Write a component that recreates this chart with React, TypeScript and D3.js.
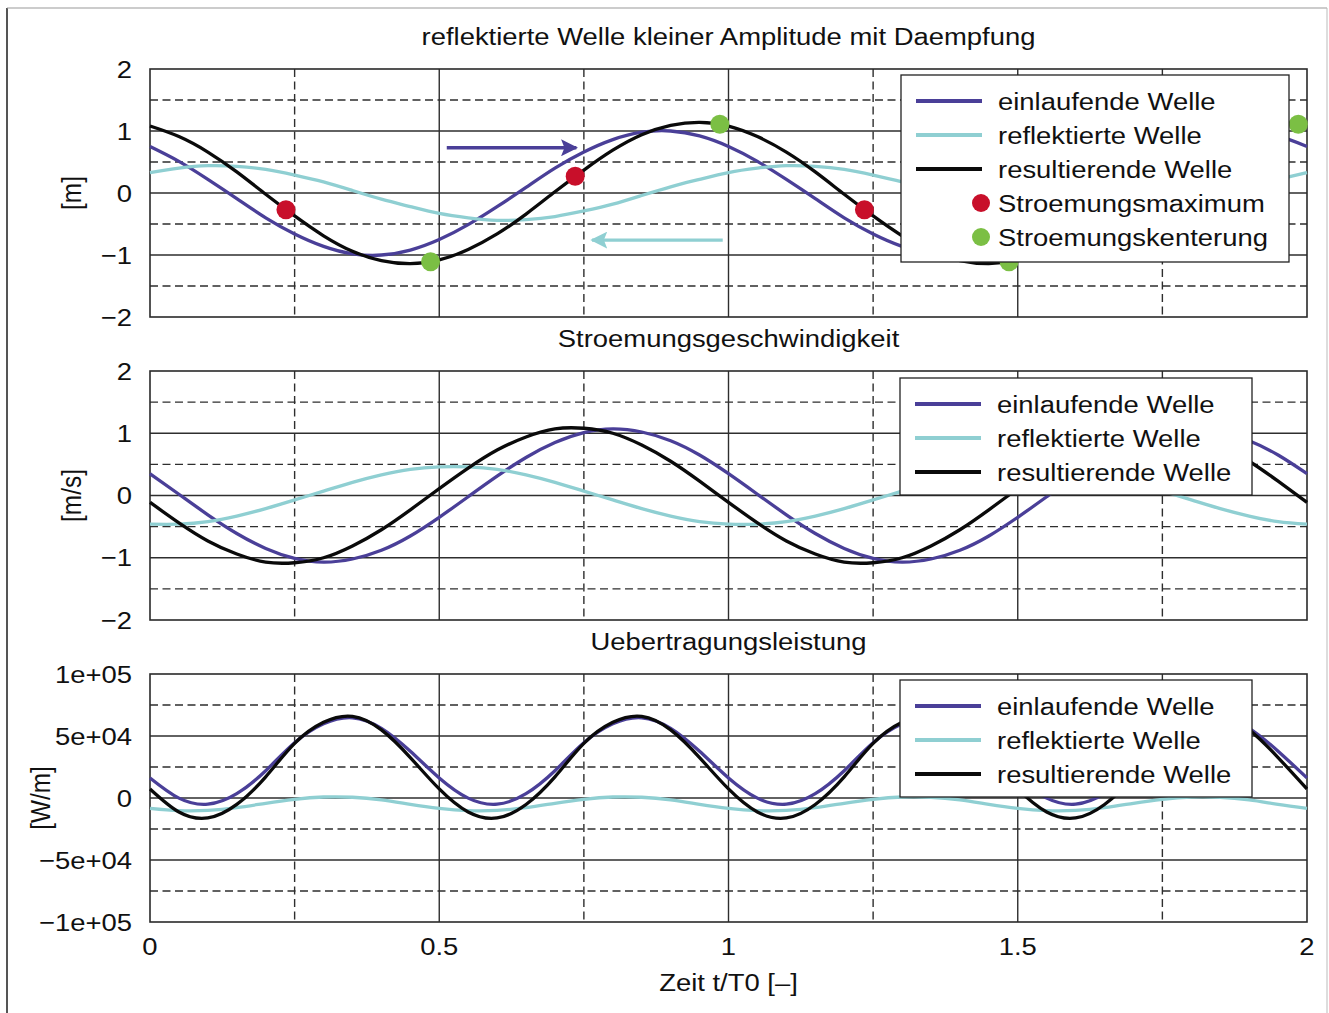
import React from 'react';
import * as d3 from 'd3';

// ---------- data ----------
const TIME = [0,0.05,0.1,0.15,0.2,0.25,0.3,0.35,0.4,0.45,0.5,0.55,0.6,0.65,0.7,0.75,0.8,0.85,0.9,0.95,1,1.05,1.1,1.15,1.2,1.25,1.3,1.35,1.4,1.45,1.5,1.55,1.6,1.65,1.7,1.75,1.8,1.85,1.9,1.95,2];

const ELEV_IN = [0.75,0.51,0.22,-0.09,-0.40,-0.66,-0.86,-0.98,-1.00,-0.92,-0.75,-0.51,-0.22,0.09,0.40,0.66,0.86,0.98,1.00,0.92,0.75,0.51,0.22,-0.09,-0.40,-0.66,-0.86,-0.98,-1.00,-0.92,-0.75,-0.51,-0.22,0.09,0.40,0.66,0.86,0.98,1.00,0.92,0.75];
const ELEV_REF = [0.33,0.40,0.44,0.43,0.38,0.29,0.18,0.04,-0.10,-0.22,-0.33,-0.40,-0.44,-0.43,-0.38,-0.29,-0.18,-0.04,0.10,0.22,0.33,0.40,0.44,0.43,0.38,0.29,0.18,0.04,-0.10,-0.22,-0.33,-0.40,-0.44,-0.43,-0.38,-0.29,-0.18,-0.04,0.10,0.22,0.33];
const ELEV_RES = [1.08,0.91,0.66,0.34,-0.02,-0.37,-0.69,-0.94,-1.09,-1.14,-1.08,-0.91,-0.66,-0.34,0.02,0.37,0.69,0.94,1.09,1.14,1.08,0.91,0.66,0.34,-0.02,-0.37,-0.69,-0.94,-1.09,-1.14,-1.08,-0.91,-0.66,-0.34,0.02,0.37,0.69,0.94,1.09,1.14,1.08];

const VEL_IN = [0.35,0.02,-0.31,-0.61,-0.85,-1.01,-1.07,-1.02,-0.88,-0.65,-0.35,-0.02,0.31,0.61,0.85,1.01,1.07,1.02,0.88,0.65,0.35,0.02,-0.31,-0.61,-0.85,-1.01,-1.07,-1.02,-0.88,-0.65,-0.35,-0.02,0.31,0.61,0.85,1.01,1.07,1.02,0.88,0.65,0.35];
const VEL_REF = [-0.46,-0.46,-0.42,-0.33,-0.21,-0.07,0.07,0.21,0.33,0.42,0.46,0.46,0.42,0.33,0.21,0.07,-0.07,-0.21,-0.33,-0.42,-0.46,-0.46,-0.42,-0.33,-0.21,-0.07,0.07,0.21,0.33,0.42,0.46,0.46,0.42,0.33,0.21,0.07,-0.07,-0.21,-0.33,-0.42,-0.46];
const VEL_RES = [-0.11,-0.44,-0.73,-0.94,-1.07,-1.08,-1.00,-0.81,-0.55,-0.23,0.11,0.44,0.73,0.94,1.07,1.08,1.00,0.81,0.55,0.23,-0.11,-0.44,-0.73,-0.94,-1.07,-1.08,-1.00,-0.81,-0.55,-0.23,0.11,0.44,0.73,0.94,1.07,1.08,1.00,0.81,0.55,0.23,-0.11];

const POW_IN = [16200,-100,-5000,3500,22000,44500,59800,64700,56200,37700,16200,-100,-5000,3500,22000,44500,59800,64700,56200,37700,16200,-100,-5000,3500,22000,44500,59800,64700,56200,37700,16200,-100,-5000,3500,22000,44500,59800,64700,56200,37700,16200];
const POW_REF = [-8300,-10200,-10000,-7800,-4300,-1100,800,600,-1600,-5100,-8300,-10200,-10000,-7800,-4300,-1100,800,600,-1600,-5100,-8300,-10200,-10000,-7800,-4300,-1100,800,600,-1600,-5100,-8300,-10200,-10000,-7800,-4300,-1100,800,600,-1600,-5100,-8300];
const POW_RES = [7300,-11300,-16100,-5200,17100,44000,61000,65800,54900,32600,7300,-11300,-16100,-5200,17100,44000,61000,65800,54900,32600,7300,-11300,-16100,-5200,17100,44000,61000,65800,54900,32600,7300,-11300,-16100,-5200,17100,44000,61000,65800,54900,32600,7300];

const MAX_T = [0.235, 0.735, 1.235, 1.735];
const MAX_V = [-0.27, 0.27, -0.27, 0.27];
const SLACK_T = [0.485, 0.985, 1.485, 1.985];
const SLACK_V = [-1.11, 1.11, -1.11, 1.11];

const ARROW_IN = { t0: 0.513, t1: 0.737, v: 0.73 };
const ARROW_REF = { t0: 0.99, t1: 0.764, v: -0.76 };

const X_TICKS = [0, 0.5, 1, 1.5, 2];
const X_TICK_LABELS = ['0', '0.5', '1', '1.5', '2'];
const X_GRID = [0.25, 0.5, 0.75, 1, 1.25, 1.5, 1.75];
const Y_TICKS_A = [2, 1, 0, -1, -2];
const Y_TICK_LABELS_A = ['2', '1', '0', '\u22121', '\u22122'];
const Y_GRID_A = [-1.5, -1, -0.5, 0, 0.5, 1, 1.5];
const Y_TICKS_P = [100000, 50000, 0, -50000, -100000];
const Y_TICK_LABELS_P = ['1e+05', '5e+04', '0', '\u22125e+04', '\u22121e+05'];
const Y_GRID_P = [-75000, -50000, -25000, 0, 25000, 50000, 75000];

const SERIES_NAMES = ['einlaufende Welle', 'reflektierte Welle', 'resultierende Welle'];
const POINT_NAMES = ['Stroemungsmaximum', 'Stroemungskenterung'];

// ---------- styles ----------
const BLUE = '#4a3f98';
const CYAN = '#8fcfd2';
const BLACK = '#0a0a0a';
const RED = '#c80f2a';
const GREEN = '#7bbf44';
const GRID = '#2e2e2e';
const FONT = "'Liberation Sans', Arial, Helvetica, sans-serif";
const SX = 1.125;

const X0 = 150, X1 = 1307;

type TxtProps = { x: number; y: number; children: any; anchor?: string; size?: number; rotate?: number };
function Txt({ x, y, children, anchor = 'start', size = 24.4, rotate = 0 }: TxtProps) {
  return (
    <text
      transform={`translate(${x},${y}) scale(${SX},1)${rotate ? ` rotate(${rotate})` : ''}`}
      textAnchor={anchor}
      fontSize={size}
      fontFamily={FONT}
      fill="#111"
    >
      {children}
    </text>
  );
}

type PanelProps = {
  top: number; bottom: number; domain: [number, number];
  yTicks: number[]; yTickLabels: string[]; yGrid: number[];
  solidStep: number; title: string; titleY: number;
  unit: string; unitX: number;
  series: number[][];
  legend: { x0: number; y0: number; x1: number; y1: number; points: boolean };
  extras?: (x: any, y: any) => any;
};

function Panel(p: PanelProps) {
  const x = d3.scaleLinear().domain([0, 2]).range([X0, X1]);
  const y = d3.scaleLinear().domain(p.domain).range([p.bottom, p.top]);
  const colors = [BLUE, CYAN, BLACK];
  const line = (vals: number[]) =>
    d3.line<number>().x((_, i) => x(TIME[i])).y((d) => y(d)).curve(d3.curveNatural)(vals) || '';
  const isSolid = (v: number, step: number) => Math.abs(v / step - Math.round(v / step)) < 1e-9;
  const lg = p.legend;
  const rowH = 34;
  const firstRow = lg.y0 + 26;
  return (
    <g>
      {p.yGrid.map((v) => (
        <line key={'h' + v} x1={X0} x2={X1} y1={y(v)} y2={y(v)} stroke={GRID} strokeWidth={1.4}
          strokeDasharray={isSolid(v, p.solidStep) ? undefined : '8,4.5'} />
      ))}
      {X_GRID.map((t) => (
        <line key={'v' + t} x1={x(t)} x2={x(t)} y1={p.top} y2={p.bottom} stroke={GRID} strokeWidth={1.4}
          strokeDasharray={isSolid(t, 0.5) ? undefined : '8,4.5'} />
      ))}
      <rect x={X0} y={p.top} width={X1 - X0} height={p.bottom - p.top} fill="none" stroke="#2a2a2a" strokeWidth={1.6} />
      {p.series.map((s, i) => (
        <path key={'s' + i} d={line(s)} fill="none" stroke={colors[i]} strokeWidth={3.3} strokeLinejoin="round" />
      ))}
      {p.extras && p.extras(x, y)}
      {p.yTicks.map((v, i) => (
        <Txt key={'yt' + v} x={132} y={y(v) + 8.5} anchor="end">{p.yTickLabels[i]}</Txt>
      ))}
      <Txt x={(X0 + X1) / 2} y={p.titleY} anchor="middle">{p.title}</Txt>
      <Txt x={p.unitX} y={(p.top + p.bottom) / 2} anchor="middle" rotate={-90}>{p.unit}</Txt>
      <rect x={lg.x0} y={lg.y0} width={lg.x1 - lg.x0} height={lg.y1 - lg.y0} fill="#fff" stroke="#222" strokeWidth={1.3} />
      {SERIES_NAMES.map((n, i) => (
        <g key={'lg' + i}>
          <line x1={lg.x0 + 15} x2={lg.x0 + 81} y1={firstRow + i * rowH} y2={firstRow + i * rowH} stroke={colors[i]} strokeWidth={4} />
          <Txt x={lg.x0 + 97} y={firstRow + i * rowH + 8.5}>{n}</Txt>
        </g>
      ))}
      {lg.points && POINT_NAMES.map((n, i) => (
        <g key={'lp' + i}>
          <circle cx={lg.x0 + 80} cy={firstRow + (3 + i) * rowH} r={9} fill={i === 0 ? RED : GREEN} />
          <Txt x={lg.x0 + 97} y={firstRow + (3 + i) * rowH + 8.5}>{n}</Txt>
        </g>
      ))}
    </g>
  );
}

export default function App() {
  const xs = d3.scaleLinear().domain([0, 2]).range([X0, X1]);
  const extrasTop = (x: any, y: any) => (
    <g>
      <defs>
        <marker id="headBlue" viewBox="0 0 10 10" refX="9" refY="5" markerWidth="5" markerHeight="5" orient="auto-start-reverse" markerUnits="strokeWidth">
          <path d="M0,0 L10,5 L0,10 L2,5 Z" fill={BLUE} />
        </marker>
        <marker id="headCyan" viewBox="0 0 10 10" refX="9" refY="5" markerWidth="5" markerHeight="5" orient="auto-start-reverse" markerUnits="strokeWidth">
          <path d="M0,0 L10,5 L0,10 L2,5 Z" fill={CYAN} />
        </marker>
      </defs>
      <line x1={x(ARROW_IN.t0)} x2={x(ARROW_IN.t1)} y1={y(ARROW_IN.v)} y2={y(ARROW_IN.v)} stroke={BLUE} strokeWidth={3.4} markerEnd="url(#headBlue)" />
      <line x1={x(ARROW_REF.t0)} x2={x(ARROW_REF.t1)} y1={y(ARROW_REF.v)} y2={y(ARROW_REF.v)} stroke={CYAN} strokeWidth={3.4} markerEnd="url(#headCyan)" />
      {MAX_T.map((t, i) => <circle key={'r' + i} cx={x(t)} cy={y(MAX_V[i])} r={9.5} fill={RED} />)}
      {SLACK_T.map((t, i) => <circle key={'g' + i} cx={x(t)} cy={y(SLACK_V[i])} r={9.5} fill={GREEN} />)}
    </g>
  );
  return (
    <svg width={1329} height={1013} style={{ position: 'absolute', left: 0, top: 0, background: '#fff' }}>
      <rect x={0} y={0} width={1329} height={1013} fill="#fff" />
      <line x1={7} x2={7} y1={8} y2={1013} stroke="#555" strokeWidth={2} />
      <line x1={7} x2={1327} y1={8} y2={8} stroke="#999" strokeWidth={1} />
      <line x1={1327} x2={1327} y1={8} y2={1013} stroke="#bbb" strokeWidth={1} />
      <Panel top={69} bottom={317} domain={[-2, 2]} yTicks={Y_TICKS_A} yTickLabels={Y_TICK_LABELS_A} yGrid={Y_GRID_A}
        solidStep={1} title="reflektierte Welle kleiner Amplitude mit Daempfung" titleY={45}
        unit="[m]" unitX={81} series={[ELEV_IN, ELEV_REF, ELEV_RES]}
        legend={{ x0: 901, y0: 75, x1: 1289, y1: 262, points: true }} extras={extrasTop} />
      <Panel top={371} bottom={620} domain={[-2, 2]} yTicks={Y_TICKS_A} yTickLabels={Y_TICK_LABELS_A} yGrid={Y_GRID_A}
        solidStep={1} title="Stroemungsgeschwindigkeit" titleY={347}
        unit="[m/s]" unitX={81} series={[VEL_IN, VEL_REF, VEL_RES]}
        legend={{ x0: 900, y0: 378, x1: 1252, y1: 495, points: false }} />
      <Panel top={674} bottom={922} domain={[-100000, 100000]} yTicks={Y_TICKS_P} yTickLabels={Y_TICK_LABELS_P} yGrid={Y_GRID_P}
        solidStep={50000} title="Uebertragungsleistung" titleY={650}
        unit="[W/m]" unitX={50} series={[POW_IN, POW_REF, POW_RES]}
        legend={{ x0: 900, y0: 680, x1: 1252, y1: 797, points: false }} />
      {X_TICKS.map((t, i) => (
        <Txt key={'xt' + t} x={xs(t)} y={955} anchor="middle">{X_TICK_LABELS[i]}</Txt>
      ))}
      <Txt x={(X0 + X1) / 2} y={991} anchor="middle">Zeit t/T0 [–]</Txt>
    </svg>
  );
}
